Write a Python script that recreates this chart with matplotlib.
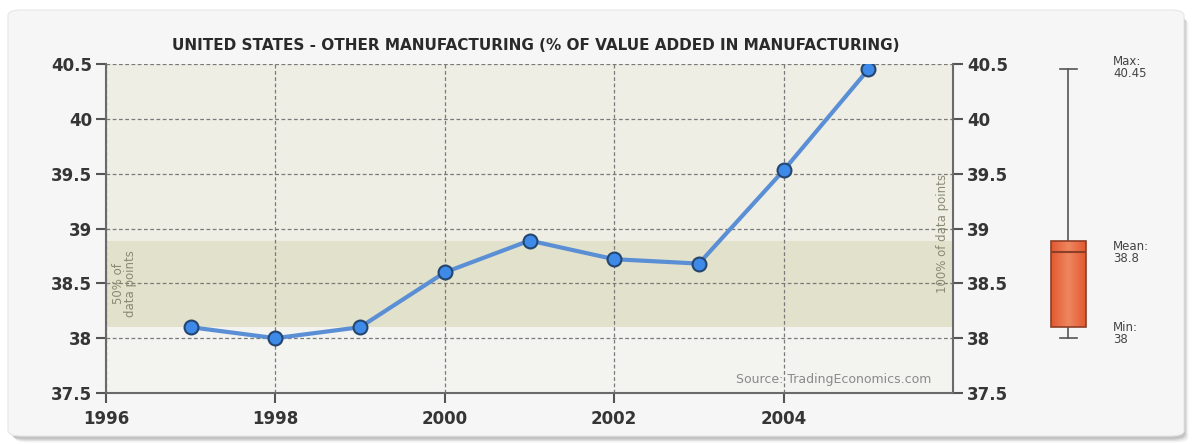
import numpy as np
import matplotlib
matplotlib.use("Agg")
import matplotlib.pyplot as plt
from matplotlib.patches import FancyBboxPatch

# Share of "other manufacturing" in value added, United States
years = [1997, 1998, 1999, 2000, 2001, 2002, 2003, 2004, 2005]
values = [38.1, 38.0, 38.1, 38.6, 38.89, 38.72, 38.68, 39.53, 40.45]
x_ticks = [1996, 1998, 2000, 2002, 2004]
y_ticks = [37.5, 38, 38.5, 39, 39.5, 40, 40.5]
y_tick_labels = ["37.5", "38", "38.5", "39", "39.5", "40", "40.5"]
title = "UNITED STATES - OTHER MANUFACTURING (% OF VALUE ADDED IN MANUFACTURING)"

W, H = 1193, 444
fig = plt.figure(figsize=(W / 100, H / 100), dpi=100)
fig.patch.set_facecolor("white")

# rounded panel with a soft shadow
for i, a in enumerate([0.05, 0.08, 0.12]):
    off = (3 - i) * 1.5
    fig.patches.append(FancyBboxPatch(
        ((10 + off) / W, (6 - off) / H), (1174) / W, (424) / H,
        boxstyle="round,pad=0,rounding_size=0.012", transform=fig.transFigure,
        facecolor="#000000", alpha=a, edgecolor="none", zorder=-20))
fig.patches.append(FancyBboxPatch(
    (8 / W, 8 / H), 1176 / W, 426 / H,
    boxstyle="round,pad=0,rounding_size=0.012", transform=fig.transFigure,
    facecolor="#f6f6f6", edgecolor="#e6e6e6", linewidth=0.8, zorder=-10))

ymin, ymax = 37.5, 40.5
ax_l, ax_r = 106 / W, 953 / W
ax_b, ax_t = (H - 393) / H, (H - 64) / H
ax = fig.add_axes([ax_l, ax_b, ax_r - ax_l, ax_t - ax_b])
ax.set_xlim(1996, 2006)
ax.set_ylim(ymin, ymax)
ax.set_facecolor("#f3f3f0")

vals = np.array(values)
q1, q3 = np.percentile(vals, [25, 75])
vmin, vmax, vmean = vals.min(), vals.max(), vals.mean()

# shaded ranges: upper part of data range and inter-quartile band
ax.axhspan(q3, ymax, color="#eeeee5", zorder=0, linewidth=0)
ax.axhspan(q1, q3, color="#e2e1cb", zorder=0, linewidth=0)

ax.set_xticks(x_ticks)
ax.set_yticks(y_ticks)
ax.set_yticklabels(y_tick_labels)
ax.grid(True, linestyle=(0, (3, 2)), color="#7a7a7a", linewidth=0.9)
ax.set_axisbelow(True)

tick_font = dict(fontsize=12, fontweight="bold")
for side in ["top", "right"]:
    ax.spines[side].set_visible(False)
for side in ["left", "bottom"]:
    ax.spines[side].set_color("#6a6a6a")
    ax.spines[side].set_linewidth(1.5)
ax.tick_params(axis="both", colors="#555555", width=1.5, length=7,
               labelcolor="#353535")
ax.tick_params(axis="x", pad=5)
ax.tick_params(axis="y", pad=3)
for lbl in ax.get_xticklabels() + ax.get_yticklabels():
    lbl.set(**tick_font)

ax2 = ax.twinx()
ax2.set_ylim(ymin, ymax)
ax2.set_yticks(y_ticks)
ax2.set_yticklabels(y_tick_labels)
for side in ["top", "left", "bottom"]:
    ax2.spines[side].set_visible(False)
ax2.spines["right"].set_color("#6a6a6a")
ax2.spines["right"].set_linewidth(1.5)
ax2.tick_params(axis="y", colors="#555555", width=1.5, length=7,
                labelcolor="#353535", pad=3)
for lbl in ax2.get_yticklabels():
    lbl.set(**tick_font)

ax.plot(years, values, color="#5a8fd6", linewidth=3, zorder=3,
        marker="o", markersize=10, markerfacecolor="#3d8ae8",
        markeredgecolor="#24466e", markeredgewidth=1.5)

ax.text(1996.22, (q1 + q3) / 2, "50% of\ndata points", rotation=90,
        ha="center", va="center", fontsize=8.5, color="#8a8a72",
        linespacing=0.95)
ax.text(2005.88, 38.95, "100% of data points", rotation=90,
        ha="center", va="center", fontsize=8.5, color="#8a8a72")
ax.text(2005.75, 37.62, "Source: TradingEconomics.com", ha="right",
        va="center", fontsize=9, color="#8a8a8a")

fig.text((ax_l + ax_r) / 2 + 0.005, (H - 45) / H, title, ha="center",
         va="center", fontsize=11, fontweight="bold", color="#2a2a2a")

# box-and-whisker summary on the right
bx = fig.add_axes([1040 / W, ax_b, 60 / W, ax_t - ax_b])
bx.set_ylim(ymin, ymax)
bx.set_xlim(0, 1)
bx.axis("off")
stats = [dict(med=vmean, q1=q1, q3=q3, whislo=vmin, whishi=vmax,
              fliers=[], label="")]
bp = bx.bxp(stats, positions=[0.47], widths=0.58, patch_artist=True,
            showfliers=False, capwidths=0.28)
for b in bp["boxes"]:
    b.set_edgecolor("#8c3f28")
    b.set_linewidth(1.2)
    # lighter vertical streak through the box
    grad = np.concatenate([np.linspace(0, 1, 50), np.linspace(1, 0, 50)])
    grad = np.vstack([grad, grad])
    cmap = matplotlib.colors.LinearSegmentedColormap.from_list(
        "boxfill", ["#e2592f", "#ee8660"])
    im = bx.imshow(grad, extent=[0.47 - 0.29, 0.47 + 0.29, q1, q3],
                   aspect="auto", cmap=cmap, zorder=2)
    im.set_clip_path(b)
    b.set_zorder(3)
    b.set_facecolor("none")
for m in bp["medians"]:
    m.set_color("#8c3f28"); m.set_linewidth(1.5); m.set_zorder(4)
for w in bp["whiskers"] + bp["caps"]:
    w.set_color("#555555"); w.set_linewidth(1.2)
bx.set_xlim(0, 1)
bx.set_ylim(ymin, ymax)

lab_x = 1113 / W
def yfig(v):
    return ax_b + (v - ymin) / (ymax - ymin) * (ax_t - ax_b)
lab_font = dict(fontsize=8.5, color="#444444", va="center", linespacing=0.9)
fig.text(lab_x, yfig(vmax) + 0.005, f"Max:\n{vmax:g}", **lab_font)
fig.text(lab_x, yfig(vmean), f"Mean:\n{vmean:.1f}", **lab_font)
fig.text(lab_x, yfig(vmin) + 0.01, f"Min:\n{vmin:g}", **lab_font)

fig.savefig("out.png", dpi=100, facecolor=fig.get_facecolor())
